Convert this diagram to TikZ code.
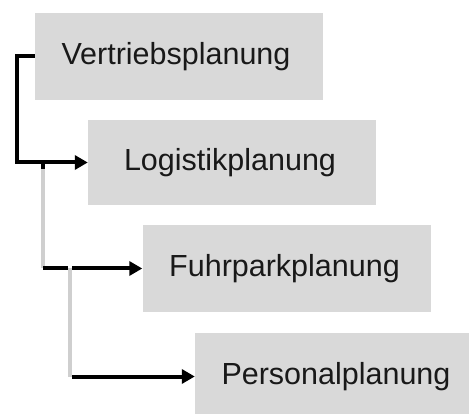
\documentclass[tikz,border=0pt]{standalone}
\usepackage{fontspec}
\setmainfont{Liberation Sans}
\usetikzlibrary{arrows.meta}
\definecolor{boxgrey}{HTML}{D9D9D9}
\definecolor{linegrey}{HTML}{CFCFCF}
\begin{document}
\begin{tikzpicture}[x=1pt,y=-1pt,
  planbox/.style={fill=boxgrey,draw=none,minimum width=288pt,minimum height=87pt,inner sep=0pt,font=\fontsize{30.5}{34}\selectfont,text=black!90},
  blk/.style={draw=black,line width=4pt},
  gry/.style={draw=linegrey,line width=4pt},
  arr/.style={blk,-{Triangle[length=13pt,width=14pt]}}]
\useasboundingbox (0,0) rectangle (469,414);
\clip (0,0) rectangle (469,414);
\fill[white] (0,0) rectangle (469,414);
\node[planbox] (v) at (179,56.5) {\hspace*{-6pt}Vertriebsplanung};
\node[planbox,minimum height=85pt] (l) at (232,162.5) {\hspace*{-4pt}Logistikplanung};
\node[planbox] (f) at (286.5,268.5) {\hspace*{-4pt}Fuhrparkplanung};
\node[planbox] (p) at (339,376.5) {\hspace*{-6pt}Personalplanung};
% connectors
\coordinate (c1) at (17,56.5);
\draw[arr] (v.west) -- (c1) |- (l.west);
\coordinate (g1t) at (43,162.5);
\coordinate (g1b) at (43,268.5);
\draw[gry] (g1t) -- (g1b);
\coordinate (g1s) at (43,169);
\draw[blk] (g1t) -- (g1s);
\coordinate (g2t) at (70,268.5);
\coordinate (g2b) at (70,376.5);
\draw[gry] (g2t) -- (g2b);
\coordinate (h1) at (68,268.5);
\draw[blk] (g1b) -- (h1);
\coordinate (h2) at (72,268.5);
\draw[arr] (h2) -- (f.west);
\coordinate (h3) at (72,376.5);
\draw[arr] (h3) -- (p.west);
\end{tikzpicture}
\end{document}
